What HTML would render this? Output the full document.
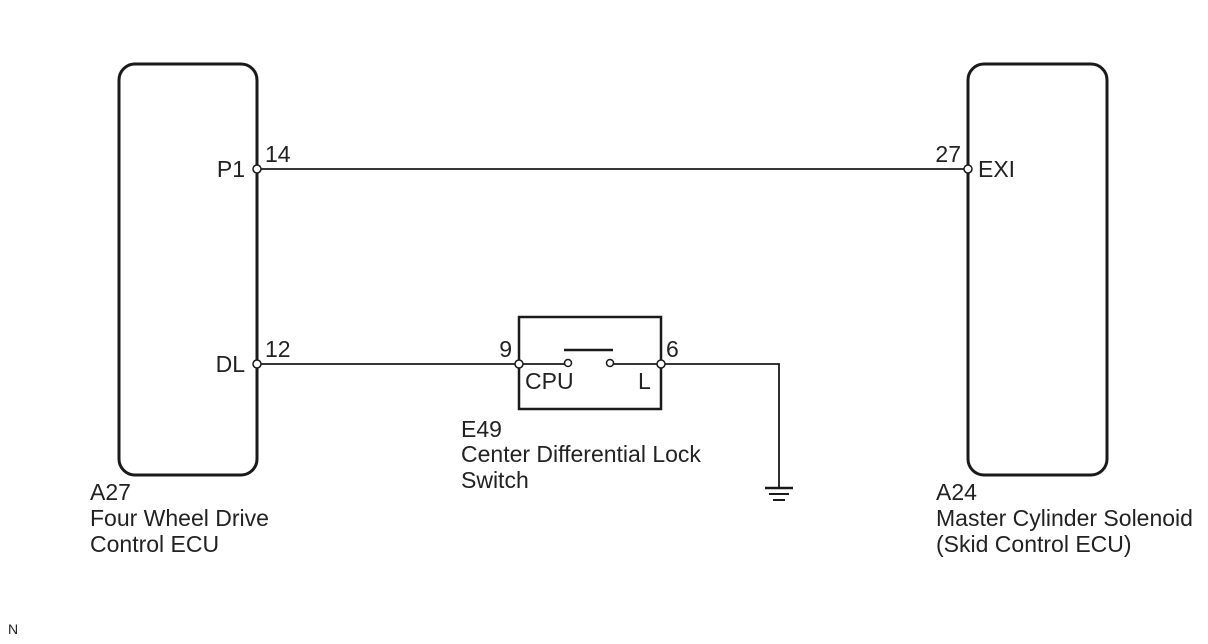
<!DOCTYPE html>
<html><head><style>
html,body{margin:0;padding:0;background:#fff;}
svg{display:block;}
text{font-family:"Liberation Sans",sans-serif;font-size:23px;fill:#222;}
</style></head><body>
<svg width="1208" height="644" viewBox="0 0 1208 644">
<g fill="none" stroke="#1a1a1a">
<rect x="119" y="64" width="138" height="411" rx="16" stroke-width="3"/>
<rect x="968" y="64" width="139" height="411" rx="16" stroke-width="3"/>
<rect x="519" y="317" width="142" height="92" stroke-width="2.5"/>
<line x1="257" y1="169" x2="968" y2="169" stroke-width="1.8"/>
<line x1="257" y1="364" x2="519" y2="364" stroke-width="1.8"/>
<line x1="519" y1="364" x2="568" y2="364" stroke-width="1.8"/>
<line x1="610" y1="364" x2="661" y2="364" stroke-width="1.8"/>
<polyline points="661,364 779,364 779,487" stroke-width="1.8"/>
<line x1="564" y1="350" x2="613" y2="350" stroke-width="2.5"/>
<line x1="765" y1="488" x2="793" y2="488" stroke-width="2.5"/>
<line x1="769" y1="494" x2="789" y2="494" stroke-width="2"/>
<line x1="773" y1="500" x2="785" y2="500" stroke-width="2"/>
</g>
<g fill="#fff" stroke="#1a1a1a" stroke-width="1.5">
<circle cx="257" cy="169" r="4"/>
<circle cx="968" cy="169" r="4"/>
<circle cx="257" cy="364" r="4"/>
<circle cx="519" cy="364" r="4"/>
<circle cx="661" cy="364" r="4"/>
<circle cx="568" cy="363" r="3.5"/>
<circle cx="610" cy="363" r="3.5"/>
</g>
<text x="245" y="177" text-anchor="end">P1</text>
<text x="265" y="162">14</text>
<text x="961" y="162" text-anchor="end">27</text>
<text x="978" y="177">EXI</text>
<text x="245" y="372" text-anchor="end">DL</text>
<text x="265" y="357">12</text>
<text x="512" y="357" text-anchor="end">9</text>
<text x="666" y="357">6</text>
<text x="525" y="389">CPU</text>
<text x="638" y="389">L</text>
<text x="461" y="437">E49</text>
<text x="461" y="462">Center Differential Lock</text>
<text x="461" y="488">Switch</text>
<text x="90" y="500">A27</text>
<text x="90" y="526">Four Wheel Drive</text>
<text x="90" y="552">Control ECU</text>
<text x="936" y="500">A24</text>
<text x="936" y="526">Master Cylinder Solenoid</text>
<text x="936" y="552">(Skid Control ECU)</text>
<text x="8" y="634" style="font-size:14px">N</text>
</svg>
</body></html>
